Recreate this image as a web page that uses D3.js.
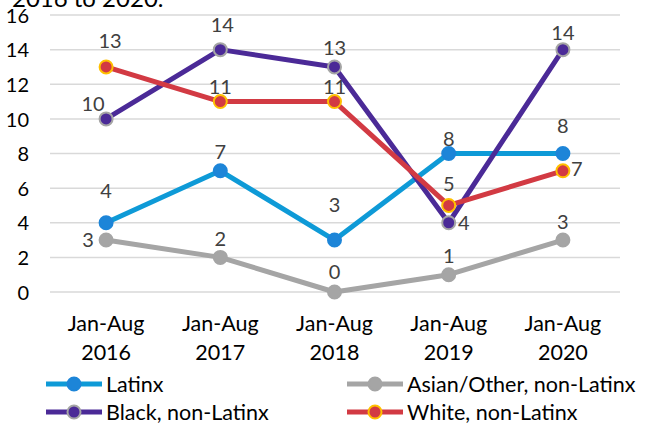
<!DOCTYPE html>
<html>
<head>
<meta charset="utf-8">
<script src="https://cdn.jsdelivr.net/npm/d3@7/dist/d3.min.js"></script>
<style>
  html, body { margin: 0; padding: 0; background: #fff; }
  svg { display: block; font-family: "Lato", "Open Sans", sans-serif; }
</style>
</head>
<body>
<svg id="chart" width="655" height="429"></svg>
<script>
// Years shown along the x axis
const periods = ["2016", "2017", "2018", "2019", "2020"];
const periodPrefix = "Jan-Aug";
const yTicks = [0, 2, 4, 6, 8, 10, 12, 14, 16];

// Counts per group, Jan-Aug of each year
const latinx = [4, 7, 3, 8, 8];
const asianOther = [3, 2, 0, 1, 3];
const black = [10, 14, 13, 4, 14];
const white = [13, 11, 11, 5, 7];

// Offset [dx, dy] of each value label's centre from its marker
const latinxLabelOffset = [[0, -32], [0, -19], [0, -35], [0, -15], [0, -28]];
const asianLabelOffset = [[-18, 0], [0, -19], [0, -20], [0, -19], [0, -18]];
const blackLabelOffset = [[-13, -15], [2, -25], [0, -19], [15, 0], [0, -17]];
const whiteLabelOffset = [[4, -26], [0, -15], [0, -15], [0, -22], [14, -2]];

const series = [
  { name: "Latinx", values: latinx, offs: latinxLabelOffset,
    line: "#0E9AD7", fill: "#1D85D8", stroke: "#1D85D8" },
  { name: "Asian/Other, non-Latinx", values: asianOther, offs: asianLabelOffset,
    line: "#A5A5A5", fill: "#A5A5A5", stroke: "#A5A5A5" },
  { name: "Black, non-Latinx", values: black, offs: blackLabelOffset,
    line: "#4B2A97", fill: "#4B2A97", stroke: "#A5A5A5" },
  { name: "White, non-Latinx", values: white, offs: whiteLabelOffset,
    line: "#D23A43", fill: "#D23A43", stroke: "#FFC000" }
];

const svg = d3.select("#chart");
const margin = { left: 49, right: 35, top: 15, bottom: 137 };
const width = 655, height = 429;

const x = d3.scaleBand()
  .domain(periods)
  .range([margin.left, width - margin.right])
  .paddingInner(0).paddingOuter(0);
const y = d3.scaleLinear()
  .domain([0, 16])
  .range([height - margin.bottom, margin.top]);

const cx = p => x(p) + x.bandwidth() / 2;

// Title fragment at the top
svg.append("text")
  .attr("x", 12).attr("y", 7)
  .attr("font-size", 24).attr("fill", "#000")
  .text("2016 to 2020.");

// Horizontal gridlines
svg.append("g")
  .selectAll("line")
  .data(yTicks)
  .join("line")
  .attr("x1", margin.left + 1).attr("x2", width - margin.right)
  .attr("y1", d => y(d)).attr("y2", d => y(d))
  .attr("stroke", "#D9D9D9").attr("stroke-width", 1.5);

// Y axis
const yAxis = svg.append("g")
  .attr("transform", "translate(29,0)")
  .call(d3.axisLeft(y).tickValues(yTicks).tickSize(0).tickPadding(0));
yAxis.select(".domain").remove();
yAxis.selectAll("text")
  .attr("font-size", 20).attr("fill", "#000")
  .attr("font-family", "Lato, sans-serif")
  .attr("dy", "0.36em");

// X axis with two-line labels
const xAxis = svg.append("g")
  .attr("transform", `translate(0,${y(0)})`)
  .call(d3.axisBottom(x).tickSize(0).tickFormat(""));
xAxis.select(".domain").remove();
xAxis.selectAll(".tick").each(function(d) {
  const t = d3.select(this).append("text")
    .attr("fill", "#000").attr("font-size", 21.5)
    .attr("font-family", "Lato, sans-serif")
    .attr("text-anchor", "middle");
  t.append("tspan").attr("x", 0).attr("y", 39).text(periodPrefix);
  t.append("tspan").attr("x", 0).attr("y", 68).text(d);
});

const line = d3.line()
  .x((d, i) => cx(periods[i]))
  .y(d => y(d));

// Lines, markers and value labels, drawn in series order
series.forEach(s => {
  const g = svg.append("g");
  g.append("path")
    .datum(s.values)
    .attr("d", line)
    .attr("fill", "none")
    .attr("stroke", s.line)
    .attr("stroke-width", 5)
    .attr("stroke-linejoin", "round");
  g.selectAll("circle")
    .data(s.values)
    .join("circle")
    .attr("cx", (d, i) => cx(periods[i]))
    .attr("cy", d => y(d))
    .attr("r", 6.5)
    .attr("fill", s.fill)
    .attr("stroke", s.stroke)
    .attr("stroke-width", 2);
  g.selectAll("text")
    .data(s.values)
    .join("text")
    .attr("font-size", 20)
    .attr("fill", "#404040")
    .attr("text-anchor", "middle")
    .attr("x", (d, i) => cx(periods[i]) + s.offs[i][0])
    .attr("y", (d, i) => y(d) + s.offs[i][1])
    .attr("dy", "0.36em")
    .text(d => d);
});

// Legend, two columns
const legendItems = [
  { s: series[0], x: 46, y: 384 },
  { s: series[1], x: 347, y: 384 },
  { s: series[2], x: 46, y: 412 },
  { s: series[3], x: 347, y: 412 }
];
const lg = svg.append("g").selectAll("g")
  .data(legendItems)
  .join("g")
  .attr("transform", d => `translate(${d.x},${d.y})`);
lg.append("line")
  .attr("x1", 0).attr("x2", 56).attr("y1", 0).attr("y2", 0)
  .attr("stroke", d => d.s.line).attr("stroke-width", 5);
lg.append("circle")
  .attr("cx", 28).attr("cy", 0).attr("r", 6.5)
  .attr("fill", d => d.s.fill)
  .attr("stroke", d => d.s.stroke).attr("stroke-width", 2);
lg.append("text")
  .attr("x", 60).attr("y", 0)
  .attr("dy", "0.36em")
  .attr("font-size", 21.5).attr("fill", "#000")
  .text(d => d.s.name);
</script>
</body>
</html>
